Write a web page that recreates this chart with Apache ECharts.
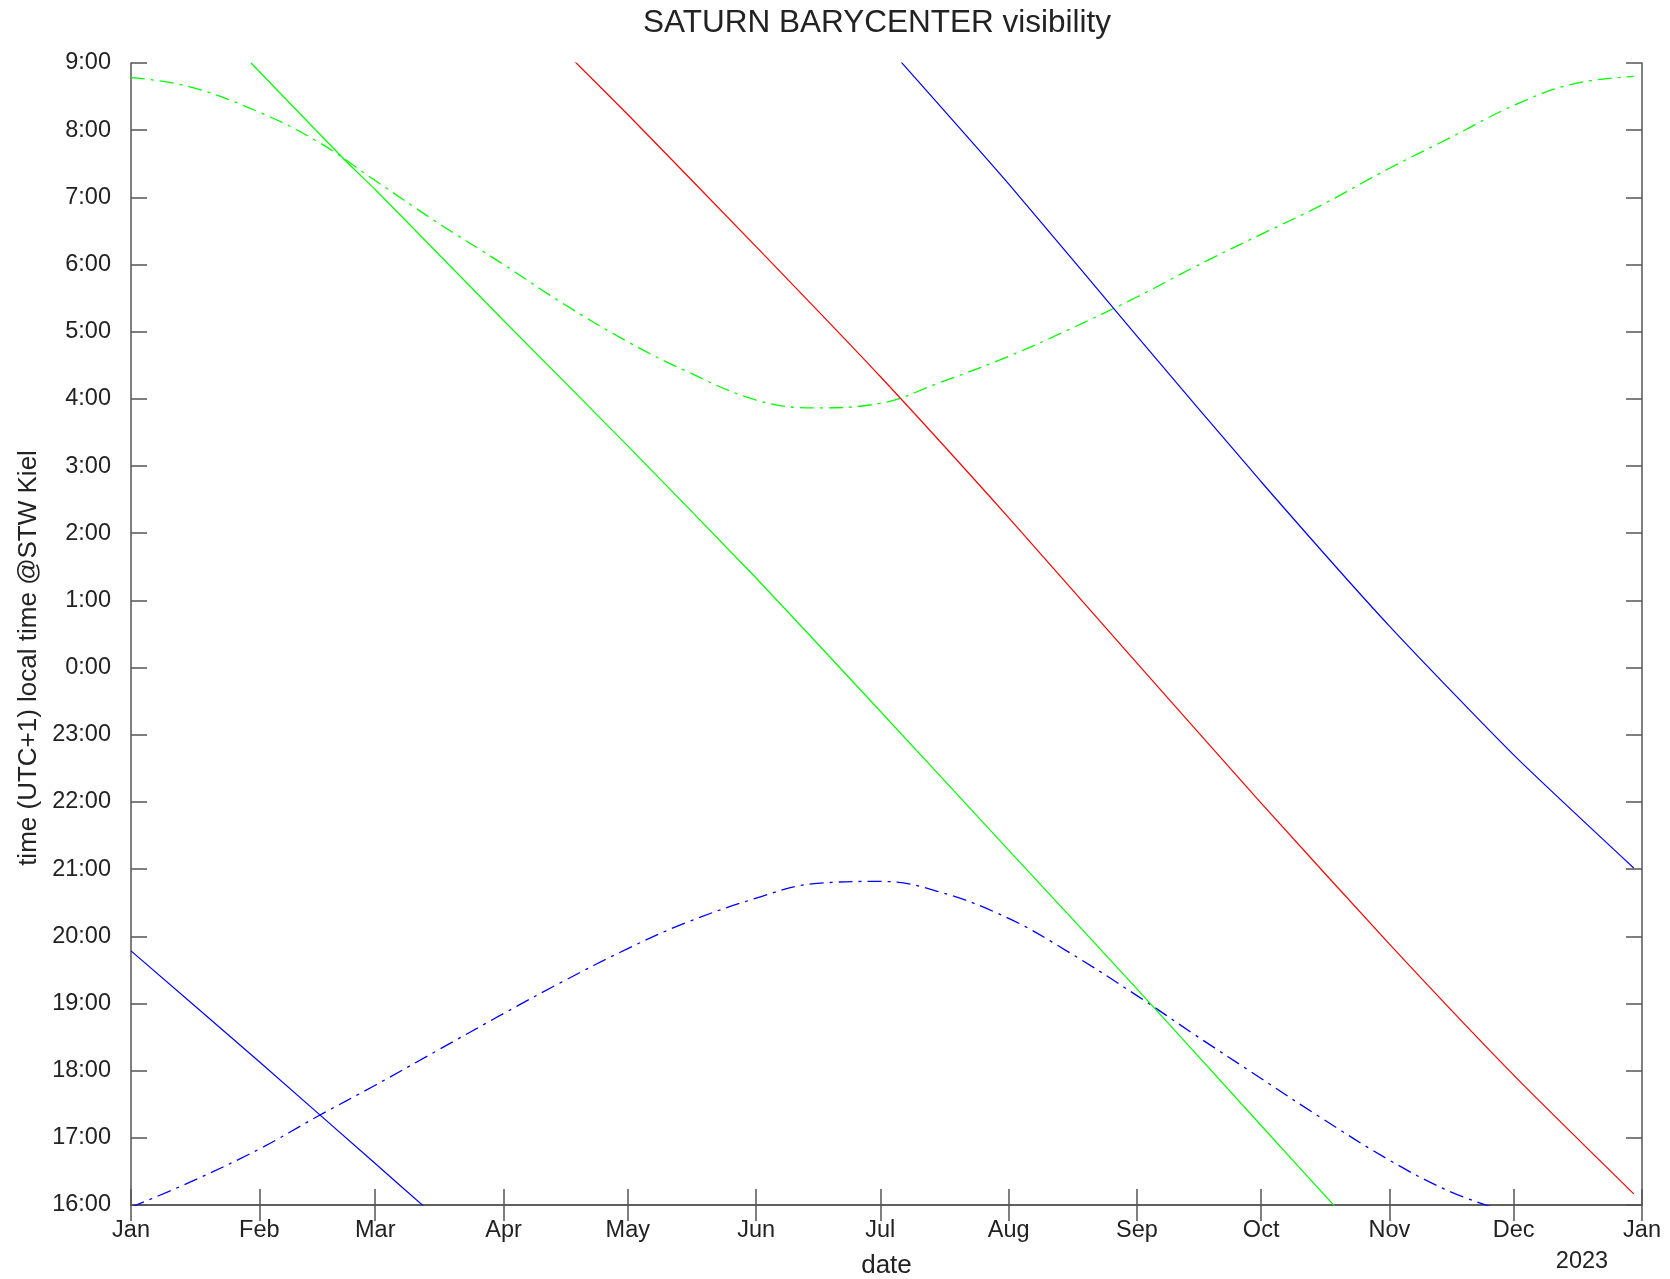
<!DOCTYPE html>
<html>
<head>
<meta charset="utf-8">
<title>SATURN BARYCENTER visibility</title>
<script src="https://cdn.jsdelivr.net/npm/echarts@6/dist/echarts.min.js"></script>
<style>
  html, body { margin: 0; padding: 0; background: #fff; }
  #main { width: 1670px; height: 1279px; }
</style>
</head>
<body>
<div id="main"></div>
<script>
// tick labels
var monthLabels = ['Jan', 'Feb', 'Mar', 'Apr', 'May', 'Jun', 'Jul', 'Aug', 'Sep', 'Oct', 'Nov', 'Dec'];
// y axis runs from 16:00 (bottom) through midnight to 9:00 (top)
var hourLabels = ['16:00', '17:00', '18:00', '19:00', '20:00', '21:00', '22:00', '23:00',
  '0:00', '1:00', '2:00', '3:00', '4:00', '5:00', '6:00', '7:00', '8:00', '9:00'];

// saturn rise (green solid)
var riseDates = ['2022-01-30', '2022-02-22', '2022-03-01', '2022-04-01', '2022-05-01', '2022-06-01',
  '2022-07-01', '2022-08-01', '2022-09-01', '2022-10-01', '2022-10-19'];
var riseTimes = ['9:00', '7:32', '7:07', '5:10', '3:18', '1:20', '23:21', '21:17', '19:13', '17:11', '15:58'];

// saturn transit (red solid)
var transitDates = ['2022-04-18', '2022-05-01', '2022-06-01', '2022-07-01', '2022-08-01', '2022-09-01',
  '2022-10-01', '2022-11-01', '2022-12-01', '2022-12-30'];
var transitTimes = ['9:02', '8:14', '6:16', '4:20', '2:14', '0:04', '21:59', '19:53', '17:56', '16:10'];

// saturn set (blue solid), two pieces
var setDatesA = ['2022-01-01', '2022-02-01', '2022-03-01', '2022-03-13'];
var setTimesA = ['19:47', '18:08', '16:37', '15:58'];
var setDatesB = ['2022-07-06', '2022-08-01', '2022-09-01', '2022-10-01', '2022-11-01', '2022-12-01', '2022-12-30'];
var setTimesB = ['9:01', '7:12', '4:56', '2:46', '0:37', '22:42', '21:01'];

// sunrise (green dash-dot)
var sunriseDates = ['2022-01-01', '2022-01-15', '2022-02-01', '2022-02-15', '2022-03-01', '2022-03-15',
  '2022-04-01', '2022-04-15', '2022-05-01', '2022-05-15', '2022-06-01', '2022-06-15', '2022-07-01',
  '2022-07-15', '2022-08-01', '2022-08-15', '2022-09-01', '2022-09-15', '2022-10-01', '2022-10-15',
  '2022-11-01', '2022-11-15', '2022-12-01', '2022-12-15', '2022-12-30'];
var sunriseTimes = ['8:47', '8:39', '8:16', '7:50', '7:15', '6:40',
  '6:00', '5:26', '4:51', '4:25', '3:59', '3:52', '3:56',
  '4:14', '4:38', '5:01', '5:31', '5:58', '6:27', '6:52',
  '7:26', '7:52', '8:22', '8:41', '8:48'];

// sunset (blue dash-dot)
var sunsetDates = ['2022-01-01', '2022-01-15', '2022-02-01', '2022-02-15', '2022-03-01', '2022-03-16',
  '2022-04-01', '2022-04-15', '2022-05-01', '2022-05-15', '2022-06-01', '2022-06-15', '2022-07-01',
  '2022-07-15', '2022-08-01', '2022-08-15', '2022-09-01', '2022-09-15', '2022-10-01', '2022-10-15',
  '2022-11-01', '2022-11-15', '2022-11-26'];
var sunsetTimes = ['15:58', '16:20', '16:50', '17:19', '17:47', '18:18',
  '18:51', '19:19', '19:49', '20:12', '20:34', '20:47', '20:49',
  '20:40', '20:16', '19:47', '19:07', '18:32', '17:53', '17:19',
  '16:40', '16:13', '15:58'];

// date string -> timestamp (local time)
function toDay(s) {
  var p = s.split('-');
  return new Date(+p[0], p[1] - 1, +p[2]).getTime();
}
// clock time -> hours after 16:00
function toAxis(t) {
  var p = t.split(':');
  var h = +p[0] + p[1] / 60;
  return h >= 12 ? h - 16 : h + 8;
}
function pairs(dates, times) {
  return dates.map(function (d, i) { return [toDay(d), toAxis(times[i])]; });
}

var monthTicks = [];
for (var m = 0; m <= 12; m++) monthTicks.push(new Date(2022, m, 1).getTime());

var font = 'Liberation Sans, Arial, sans-serif';
var axisColor = '#555';
var dashDot = [14, 6, 3, 6];

var myChart = echarts.init(document.getElementById('main'));

function solid(data, color) {
  return {
    type: 'line', data: data, showSymbol: false, smooth: 0.2,
    lineStyle: { color: color, width: 1.2 }, clip: true
  };
}
function dashed(data, color) {
  return {
    type: 'line', data: data, showSymbol: false, smooth: 0.4,
    lineStyle: { color: color, width: 1.3, type: dashDot }, clip: true
  };
}

var xTop = {
  type: 'value', position: 'top',
  min: monthTicks[0], max: monthTicks[12],
  axisLine: { lineStyle: { color: axisColor, width: 1.5 } },
  axisTick: { inside: true, length: 16, customValues: monthTicks, lineStyle: { color: axisColor, width: 1.5 } },
  axisLabel: { show: false },
  splitLine: { show: false }
};

var option = {
  animation: false,
  backgroundColor: '#fff',
  title: {
    text: 'SATURN BARYCENTER visibility',
    left: 872, top: 2, textAlign: 'center',
    textStyle: { fontFamily: font, fontSize: 31.5, fontWeight: 'normal', color: '#222' }
  },
  grid: { left: 131, right: 28, top: 63, bottom: 74, outerBoundsMode: 'none', containLabel: false },
  xAxis: [{
    type: 'value',
    min: monthTicks[0], max: monthTicks[12],
    name: 'date', nameLocation: 'middle', nameGap: 48,
    nameTextStyle: { fontFamily: font, fontSize: 26, color: '#222' },
    axisLine: { lineStyle: { color: axisColor, width: 1.5 } },
    axisTick: { inside: true, length: 16, customValues: monthTicks, lineStyle: { color: axisColor, width: 1.5 } },
    axisLabel: {
      customValues: monthTicks, margin: 14,
      fontFamily: font, fontSize: 23.5, color: '#222',
      formatter: function (v) { return monthLabels[new Date(v).getMonth()]; }
    },
    splitLine: { show: false }
  }, xTop],
  yAxis: [{
    type: 'value', min: 0, max: 17, interval: 1,
    axisLine: { show: true, lineStyle: { color: axisColor, width: 1.5 } },
    axisTick: { show: true, inside: true, length: 16, lineStyle: { color: axisColor, width: 1.5 } },
    axisLabel: {
      margin: 20, fontFamily: font, fontSize: 23.5, color: '#222',
      formatter: function (v) { return hourLabels[v]; }
    },
    splitLine: { show: false }
  }, {
    type: 'value', min: 0, max: 17, interval: 1, position: 'right',
    axisLine: { show: true, lineStyle: { color: axisColor, width: 1.5 } },
    axisTick: { show: true, inside: true, length: 16, lineStyle: { color: axisColor, width: 1.5 } },
    axisLabel: { show: false },
    splitLine: { show: false }
  }],
  graphic: [{
    type: 'text', x: 29, y: 658, rotation: Math.PI / 2,
    style: {
      text: 'time (UTC+1) local time @STW Kiel', fill: '#222',
      font: '26px ' + font, align: 'center', verticalAlign: 'middle'
    }
  }, {
    type: 'text', x: 1582, y: 1262,
    style: { text: '2023', fill: '#222', font: '23.5px ' + font, align: 'center', verticalAlign: 'middle' }
  }],
  series: [
    dashed(pairs(sunriseDates, sunriseTimes), '#00ff00'),
    dashed(pairs(sunsetDates, sunsetTimes), '#0000ff'),
    solid(pairs(riseDates, riseTimes), '#00ff00'),
    solid(pairs(transitDates, transitTimes), '#ff0000'),
    solid(pairs(setDatesA, setTimesA), '#0000ff'),
    solid(pairs(setDatesB, setTimesB), '#0000ff')
  ]
};

myChart.setOption(option);
</script>
</body>
</html>
